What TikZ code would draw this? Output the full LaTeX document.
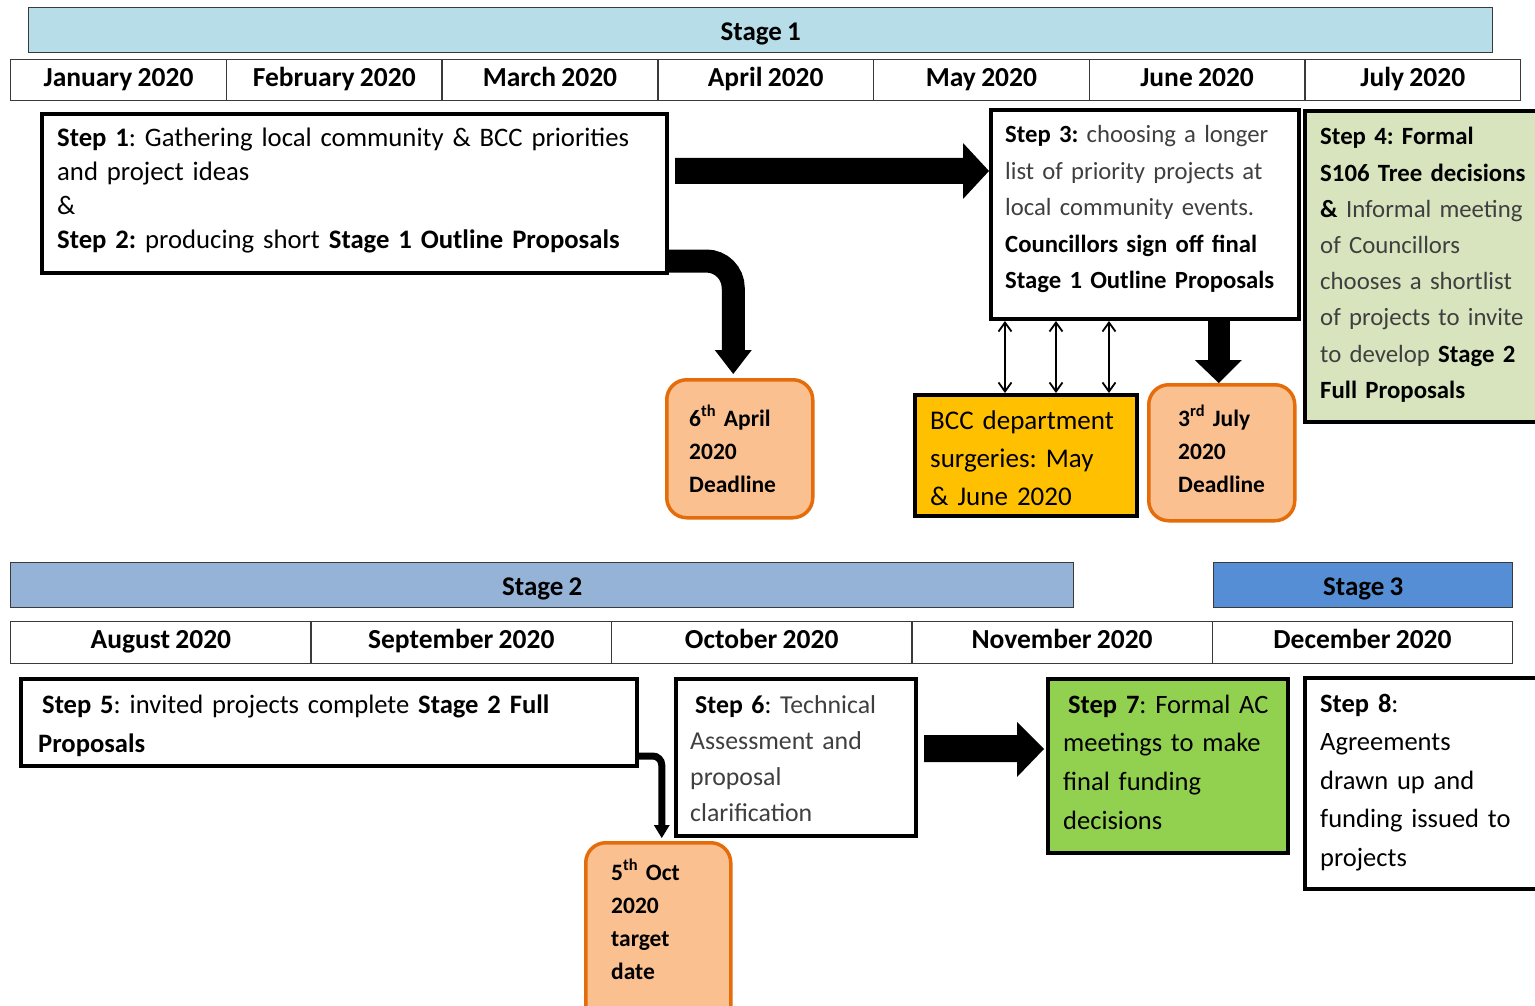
\documentclass[tikz,border=0pt]{standalone}
\usepackage{fontspec}
\setmainfont{Carlito}[WordSpace=0.85]
\frenchspacing
\usetikzlibrary{calc,arrows.meta}
\definecolor{stageA}{HTML}{B7DEE8}
\definecolor{stageB}{HTML}{95B3D7}
\definecolor{stageC}{HTML}{558ED5}
\definecolor{linegray}{HTML}{3A3A3A}
\definecolor{sfourfill}{HTML}{D7E4BD}
\definecolor{ssevenfill}{HTML}{92D050}
\definecolor{bccfill}{HTML}{FFC000}
\definecolor{dlfill}{HTML}{FAC090}
\definecolor{dlborder}{HTML}{E46C0A}
\definecolor{txtgray}{HTML}{3F3F3F}
\begin{document}
\begin{tikzpicture}[x=1pt,y=-1pt,
  thinbox/.style={draw=linegray, line width=1.4pt, inner sep=0pt, anchor=north west},
  stagebar/.style={thinbox, font=\fontsize{27}{29}\selectfont\bfseries, text height=22.5pt, text depth=1.5pt},
  month/.style={thinbox, fill=white, font=\fontsize{27.5}{29}\selectfont\bfseries, text height=18pt, text depth=6pt},
  box/.style={draw=black, line width=4pt, fill=white, anchor=north west, inner sep=0pt},
  deadline/.style={draw=dlborder, fill=dlfill, line width=3.5pt, rounded corners=20pt, anchor=north west, inner sep=0pt},
  txt/.style={anchor=base west, inner sep=0pt, align=left, text width=420pt},
  dbl/.style={line width=1.8pt, {Straight Barb[length=9pt,width=13pt]}-{Straight Barb[length=9pt,width=13pt]}},
  fat/.style={fill=black}
]
\useasboundingbox (0,0) rectangle (1535,1006);

% stage bars
\node[stagebar, fill=stageA, minimum width=1464pt, minimum height=45pt] (st1) at (28,7) {Stage 1};
\node[stagebar, fill=stageB, minimum width=1063pt, minimum height=45pt] (st2) at (10,562) {Stage 2};
\node[stagebar, fill=stageC, minimum width=299pt, minimum height=45pt] (st3) at (1213,562) {Stage 3};

% month rows
\foreach \lab [count=\i from 0] in {January 2020, February 2020, March 2020, April 2020, May 2020, June 2020, July 2020}
  \node[month, minimum width=215.71pt, minimum height=41pt] (ma\i) at (10+\i*215.71, 59) {\lab};
\foreach \lab [count=\i from 0] in {August 2020, September 2020, October 2020, November 2020, December 2020}
  \node[month, minimum width=300.4pt, minimum height=42pt] (mb\i) at (10+\i*300.4, 621) {\lab};

% boxes
\node[box, minimum width=625pt, minimum height=159pt] (s1) at (40,112) {};
\node[box, minimum width=308pt, minimum height=209pt] (s3) at (989,108) {};
\node[box, fill=sfourfill, minimum width=250pt, minimum height=311pt] (s4) at (1303,109) {};
\node[deadline, minimum width=146pt, minimum height=138pt] (d1) at (665,378) {};
\node[box, fill=bccfill, minimum width=222pt, minimum height=121pt] (bcc) at (913,393) {};
\node[deadline, minimum width=146pt, minimum height=136pt] (d2) at (1147,383) {};
\node[box, minimum width=616pt, minimum height=87pt] (s5) at (19,677) {};
\node[box, minimum width=240pt, minimum height=157pt] (s6) at (674,677) {};
\node[deadline, minimum width=145pt, minimum height=200pt] (d3) at (584,841) {};
\node[box, fill=ssevenfill, minimum width=240pt, minimum height=174pt] (s7) at (1046,677) {};
\node[box, minimum width=250pt, minimum height=211pt] (s8) at (1303,676) {};

% connectors
\fill[fat] ($(s1.east|-0,158)+(6,0)$) -- ($(s3.west|-0,158)+(-26,0)$) -- ($(s3.west|-0,143)+(-26,0)$)
  -- ($(s3.west|-0,171)+(0,0)$) -- ($(s3.west|-0,199)+(-26,0)$) -- ($(s3.west|-0,184)+(-26,0)$)
  -- ($(s1.east|-0,184)+(6,0)$) -- cycle;
\draw[line width=23pt, rounded corners=27pt] ($(s1.east|-0,261)+(-4,0)$) -| ($(d1.north)+(-6.5,-27)$);
\fill[fat] ($(d1.north)+(-25,-28)$) -- ($(d1.north)+(12,-28)$) -- ($(d1.north)+(-6.5,-4)$) -- cycle;
\fill[fat] ($(s3.south -| d2.north)+(-14,-2)$) rectangle ($(d2.north)+(8,-22)$);
\fill[fat] ($(d2.north)+(-27,-23)$) -- ($(d2.north)+(20,-23)$) -- ($(d2.north)+(-3,0)$) -- cycle;
\draw[dbl] (s3.south -| 1005,0) -- (bcc.north -| 1005,0);
\draw[dbl] (s3.south -| 1056,0) -- (bcc.north -| 1056,0);
\draw[dbl] (s3.south -| 1109,0) -- (bcc.north -| 1109,0);
\draw[line width=7pt, rounded corners=9pt] ($(s5.east|-0,756)+(-3,0)$) -| ($(d3.north)+(3.5,-15)$);
\fill[fat] ($(d3.north)+(-4.5,-16)$) -- ($(d3.north)+(11.5,-16)$) -- ($(d3.north)+(3.5,-3)$) -- cycle;
\fill[fat] ($(s6.east|-0,735)+(6,0)$) -- ($(s7.west|-0,735)+(-29,0)$) -- ($(s7.west|-0,722)+(-29,0)$)
  -- ($(s7.west|-0,749)+(-2,0)$) -- ($(s7.west|-0,777)+(-29,0)$) -- ($(s7.west|-0,762)+(-29,0)$)
  -- ($(s6.east|-0,762)+(6,0)$) -- cycle;

% texts
\node[txt, font=\fontsize{26.7}{33.7}\selectfont, text width=620pt] (t1) at (57,147)
  {\textbf{Step 1}: Gathering local community \& BCC priorities\\and project ideas\\\&\\\textbf{Step 2:} producing short \textbf{Stage 1 Outline Proposals}};
\node[txt, font=\fontsize{24.7}{36.5}\selectfont, text width=300pt] (t3) at (1005,143)
  {\textbf{Step 3:} \textcolor{txtgray}{choosing a longer}\\\textcolor{txtgray}{list of priority projects at}\\\textcolor{txtgray}{local community events.}\\\textbf{Councillors sign off final}\\\textbf{Stage 1 Outline Proposals}};
\node[txt, font=\fontsize{24.8}{36.2}\selectfont, text width=240pt] (t4) at (1320,145)
  {\textbf{Step 4: Formal}\\\textbf{S106 Tree decisions}\\\textbf{\&} \textcolor{txtgray}{Informal meeting}\\\textcolor{txtgray}{of Councillors}\\\textcolor{txtgray}{chooses a shortlist}\\\textcolor{txtgray}{of projects to invite}\\\textcolor{txtgray}{to develop} \textbf{Stage 2}\\\textbf{Full Proposals}};
\node[txt, font=\fontsize{23.5}{33}\selectfont\bfseries, text width=120pt] (td1) at (689,426)
  {6\textsuperscript{th} April\\2020\\Deadline};
\node[txt, font=\fontsize{27}{38}\selectfont, text width=210pt] (tb) at (930,429)
  {BCC department\\surgeries: May\\\& June 2020};
\node[txt, font=\fontsize{23.5}{33}\selectfont\bfseries, text width=120pt] (td2) at (1178,426)
  {3\textsuperscript{rd} July\\2020\\Deadline};
\node[txt, font=\fontsize{26.6}{39}\selectfont, text width=600pt] (t5) at (38,713)
  {\hspace*{4pt}\textbf{Step 5}: invited projects complete \textbf{Stage 2 Full}\\\textbf{Proposals}};
\node[txt, font=\fontsize{25.8}{36}\selectfont, text width=230pt] (t6) at (690,713)
  {\hspace*{5pt}\textbf{Step 6}: \textcolor{txtgray}{Technical}\\\textcolor{txtgray}{Assessment and}\\\textcolor{txtgray}{proposal}\\\textcolor{txtgray}{clarification}};
\node[txt, font=\fontsize{23.5}{33.3}\selectfont\bfseries, text width=120pt] (td3) at (611,880)
  {5\textsuperscript{th} Oct\\2020\\target\\date};
\node[txt, font=\fontsize{26.5}{38.7}\selectfont, text width=230pt] (t7) at (1063,713)
  {\hspace*{5pt}\textbf{Step 7}: Formal AC\\meetings to make\\final funding\\decisions};
\node[txt, font=\fontsize{26.5}{38.5}\selectfont, text width=230pt] (t8) at (1320,712)
  {\textbf{Step 8}:\\Agreements\\drawn up and\\funding issued to\\projects};
\end{tikzpicture}
\end{document}
